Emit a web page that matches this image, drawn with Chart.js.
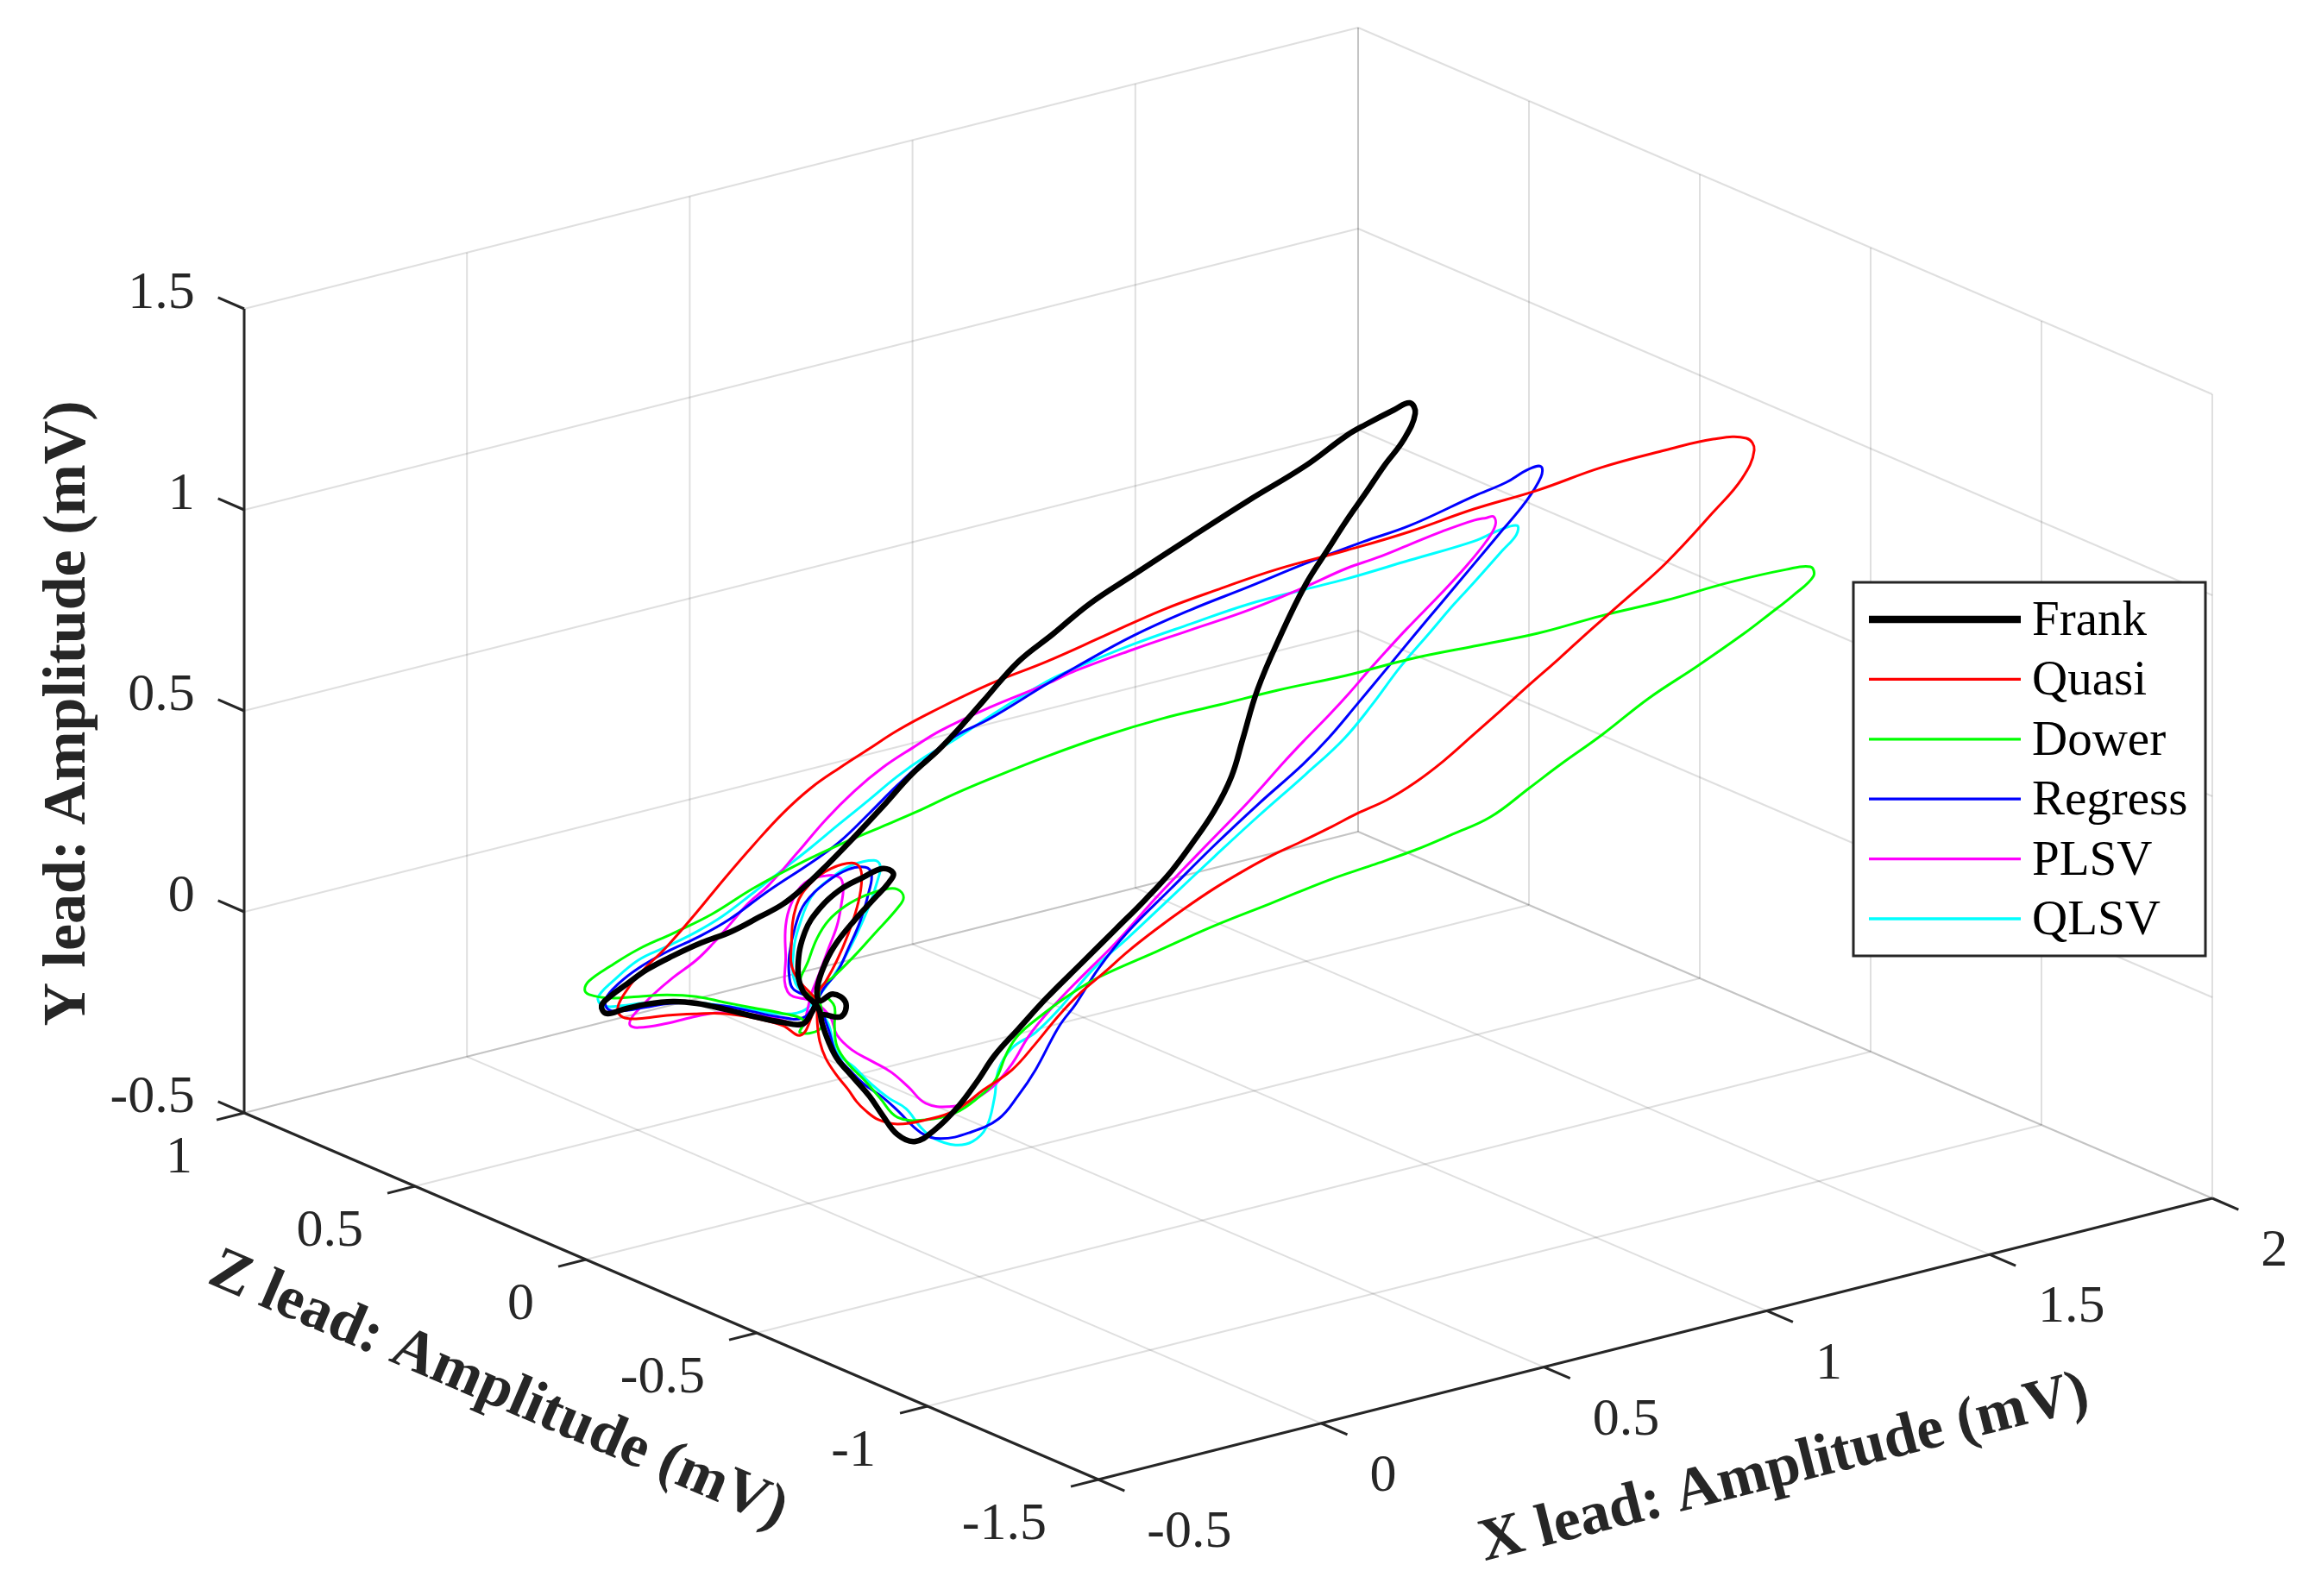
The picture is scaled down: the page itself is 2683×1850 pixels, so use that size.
<!DOCTYPE html>
<html><head><meta charset="utf-8">
<script src="https://cdn.jsdelivr.net/npm/chart.js@4.4.1/dist/chart.umd.min.js"></script>
<style>html,body{margin:0;padding:0;background:#fff;overflow:hidden}canvas{display:block}</style>
</head><body>
<canvas id="c" width="2683" height="1850"></canvas>
<script>
// ---------------- DATA (mV) ----------------
const seriesNames = ['Frank','Quasi','Dower','Regress','PLSV','QLSV'];

const frankX = [0.014,0.004,-0.010,-0.042,-0.090,-0.136,-0.182,-0.220,-0.262,-0.300,
 -0.328,-0.336,-0.322,-0.294,-0.262,-0.220,-0.174,-0.126,-0.080,-0.042,
 -0.010,0.028,0.074,0.120,0.168,0.211,0.249,0.284,0.340,0.396,
 0.456,0.526,0.620,0.714,0.806,0.872,0.903,0.949,0.975,0.984,
 0.966,0.933,0.903,0.872,0.844,0.806,0.765,0.728,0.704,0.686,
 0.658,0.620,0.588,0.546,0.498,0.442,0.386,0.340,0.302,0.274,
 0.242,0.204,0.172,0.144,0.120,0.098,0.070,0.046,0.032,0.022,
 0.015,-0.010,-0.017,-0.006,0.018,0.050,0.088,0.120,0.137,0.130,
 0.106,0.074,0.046,0.028,0.014,0.018,0.039,0.060,0.053,0.025];
const frankY = [0.003,-0.029,-0.053,-0.046,-0.026,-0.004,0.015,0.023,0.021,0.012,
 0.004,0.024,0.046,0.075,0.107,0.137,0.165,0.188,0.220,0.248,
 0.284,0.336,0.404,0.475,0.552,0.608,0.666,0.723,0.814,0.877,
 0.947,1.011,1.096,1.179,1.256,1.324,1.349,1.381,1.396,1.369,
 1.307,1.243,1.178,1.112,1.048,0.960,0.837,0.706,0.585,0.495,
 0.412,0.330,0.268,0.202,0.133,0.053,-0.027,-0.100,-0.161,-0.222,
 -0.284,-0.338,-0.363,-0.343,-0.293,-0.242,-0.190,-0.144,-0.100,-0.056,
 -0.015,0.031,0.091,0.176,0.232,0.274,0.302,0.321,0.308,0.285,
 0.247,0.196,0.145,0.098,0.035,0.002,0.017,-0.006,-0.040,-0.033];
const frankZ = [-0.007,-0.002,0.005,0.021,0.045,0.068,0.091,0.110,0.131,0.150,
 0.164,0.168,0.161,0.147,0.131,0.110,0.087,0.063,0.040,0.021,
 0.005,-0.014,-0.037,-0.060,-0.084,-0.106,-0.125,-0.142,-0.170,-0.198,
 -0.228,-0.263,-0.310,-0.357,-0.403,-0.436,-0.452,-0.475,-0.488,-0.492,
 -0.483,-0.467,-0.452,-0.436,-0.422,-0.403,-0.383,-0.364,-0.352,-0.343,
 -0.329,-0.310,-0.294,-0.273,-0.249,-0.221,-0.193,-0.170,-0.151,-0.137,
 -0.121,-0.102,-0.086,-0.072,-0.060,-0.049,-0.035,-0.023,-0.016,-0.011,
 -0.008,0.005,0.009,0.003,-0.009,-0.025,-0.044,-0.060,-0.069,-0.065,
 -0.053,-0.037,-0.023,-0.014,-0.007,-0.009,-0.020,-0.030,-0.027,-0.013];

const quasiX = [0.014,-0.024,-0.028,-0.020,0.004,0.036,0.070,0.084,0.085,0.078,
 0.064,0.046,0.028,0.014,0.004,-0.013,-0.042,-0.090,-0.136,-0.182,
 -0.230,-0.276,-0.301,-0.310,-0.300,-0.276,-0.230,-0.182,-0.136,-0.090,
 -0.042,0.004,0.050,0.098,0.144,0.200,0.294,0.386,0.480,0.574,
 0.666,0.760,0.872,0.975,1.079,1.183,1.286,1.390,1.467,1.521,
 1.534,1.514,1.467,1.390,1.320,1.264,1.218,1.170,1.124,1.078,
 1.030,0.984,0.938,0.890,0.844,0.798,0.750,0.704,0.658,0.610,
 0.564,0.518,0.480,0.442,0.406,0.368,0.330,0.284,0.238,0.190,
 0.144,0.113,0.092,0.078,0.064,0.046,0.028,0.018,0.014,0.014];
const quasiY = [0.003,0.077,0.146,0.242,0.297,0.329,0.340,0.324,0.281,0.226,
 0.163,0.100,0.050,0.020,-0.039,-0.081,-0.054,-0.030,-0.015,-0.011,
 -0.010,-0.014,-0.008,0.013,0.048,0.095,0.161,0.241,0.322,0.399,
 0.474,0.533,0.578,0.621,0.662,0.703,0.763,0.810,0.865,0.920,
 0.963,1.003,1.039,1.076,1.122,1.159,1.205,1.238,1.258,1.255,
 1.224,1.155,1.076,0.956,0.867,0.797,0.737,0.677,0.618,0.560,
 0.500,0.451,0.412,0.383,0.351,0.321,0.291,0.257,0.219,0.174,
 0.127,0.076,0.028,-0.018,-0.072,-0.139,-0.200,-0.245,-0.292,-0.311,
 -0.317,-0.303,-0.278,-0.255,-0.223,-0.187,-0.143,-0.099,-0.051,-0.008];
const quasiZ = [-0.007,0.012,0.014,0.010,-0.002,-0.018,-0.035,-0.042,-0.043,-0.039,
 -0.032,-0.023,-0.014,-0.007,-0.002,0.007,0.021,0.045,0.068,0.091,
 0.115,0.138,0.151,0.155,0.150,0.138,0.115,0.091,0.068,0.045,
 0.021,-0.002,-0.025,-0.049,-0.072,-0.100,-0.147,-0.193,-0.240,-0.287,
 -0.333,-0.380,-0.436,-0.488,-0.540,-0.592,-0.643,-0.695,-0.734,-0.761,
 -0.767,-0.757,-0.734,-0.695,-0.660,-0.632,-0.609,-0.585,-0.562,-0.539,
 -0.515,-0.492,-0.469,-0.445,-0.422,-0.399,-0.375,-0.352,-0.329,-0.305,
 -0.282,-0.259,-0.240,-0.221,-0.203,-0.184,-0.165,-0.142,-0.119,-0.095,
 -0.072,-0.057,-0.046,-0.039,-0.032,-0.023,-0.014,-0.009,-0.007,-0.007];

const dowerX = [0.018,-0.013,0.000,0.014,0.032,0.060,0.092,0.123,0.144,0.154,
 0.144,0.106,0.074,0.042,0.018,0.022,0.018,-0.014,-0.007,-0.048,
 -0.090,-0.136,-0.182,-0.230,-0.276,-0.322,-0.356,-0.363,-0.356,-0.322,
 -0.276,-0.220,-0.157,-0.090,-0.020,0.050,0.120,0.172,0.238,0.294,
 0.386,0.480,0.574,0.666,0.760,0.872,0.975,1.079,1.183,1.286,
 1.390,1.493,1.586,1.625,1.630,1.597,1.558,1.518,1.442,1.363,
 1.288,1.218,1.170,1.106,1.044,0.984,0.914,0.844,0.750,0.658,
 0.564,0.470,0.424,0.378,0.340,0.322,0.302,0.274,0.238,0.190,
 0.144,0.116,0.092,0.064,0.046,0.042,0.042,0.032];
const dowerY = [0.002,0.042,0.105,0.159,0.200,0.234,0.257,0.269,0.267,0.246,
 0.220,0.159,0.108,0.062,0.030,-0.037,-0.069,-0.074,-0.045,-0.021,
 -0.005,0.013,0.032,0.041,0.041,0.042,0.054,0.067,0.088,0.121,
 0.159,0.193,0.234,0.292,0.343,0.387,0.426,0.455,0.496,0.527,
 0.574,0.616,0.650,0.675,0.702,0.728,0.759,0.781,0.803,0.836,
 0.864,0.899,0.922,0.925,0.901,0.857,0.813,0.770,0.696,0.624,
 0.541,0.471,0.420,0.353,0.316,0.283,0.252,0.222,0.173,0.126,
 0.071,0.016,-0.022,-0.069,-0.115,-0.156,-0.225,-0.265,-0.298,-0.311,
 -0.300,-0.250,-0.205,-0.159,-0.114,-0.065,-0.015,0.007];
const dowerZ = [-0.009,0.007,0.000,-0.007,-0.016,-0.030,-0.046,-0.062,-0.072,-0.077,
 -0.072,-0.053,-0.037,-0.021,-0.009,-0.011,-0.009,0.007,0.004,0.024,
 0.045,0.068,0.091,0.115,0.138,0.161,0.178,0.182,0.178,0.161,
 0.138,0.110,0.079,0.045,0.010,-0.025,-0.060,-0.086,-0.119,-0.147,
 -0.193,-0.240,-0.287,-0.333,-0.380,-0.436,-0.488,-0.540,-0.592,-0.643,
 -0.695,-0.747,-0.793,-0.813,-0.815,-0.799,-0.779,-0.759,-0.721,-0.682,
 -0.644,-0.609,-0.585,-0.553,-0.522,-0.492,-0.457,-0.422,-0.375,-0.329,
 -0.282,-0.235,-0.212,-0.189,-0.170,-0.161,-0.151,-0.137,-0.119,-0.095,
 -0.072,-0.058,-0.046,-0.032,-0.023,-0.021,-0.021,-0.016];

const regressX = [0.011,-0.024,-0.031,-0.031,-0.021,-0.006,0.028,0.064,0.092,0.102,
 0.098,0.084,0.064,0.046,0.025,0.011,-0.010,-0.052,-0.094,-0.140,
 -0.188,-0.224,-0.266,-0.304,-0.325,-0.329,-0.308,-0.276,-0.230,-0.182,
 -0.129,-0.066,0.004,0.050,0.098,0.144,0.190,0.238,0.294,0.386,
 0.434,0.526,0.620,0.714,0.806,0.900,0.975,1.079,1.131,1.167,
 1.188,1.188,1.162,1.121,1.079,1.027,0.984,0.938,0.890,0.844,
 0.802,0.728,0.658,0.588,0.518,0.470,0.434,0.406,0.368,0.340,
 0.308,0.260,0.214,0.182,0.144,0.120,0.092,0.070,0.046,0.032,
 0.022,0.014];
const regressY = [0.009,0.034,0.065,0.121,0.193,0.247,0.295,0.324,0.327,0.309,
 0.267,0.195,0.126,0.070,0.034,-0.002,-0.038,-0.030,-0.013,0.005,
 0.016,0.019,0.013,0.008,0.014,0.040,0.077,0.112,0.148,0.178,
 0.218,0.283,0.347,0.394,0.460,0.526,0.586,0.639,0.677,0.754,
 0.792,0.860,0.916,0.964,1.013,1.058,1.091,1.154,1.183,1.212,
 1.217,1.191,1.129,1.058,0.985,0.895,0.820,0.739,0.655,0.576,
 0.514,0.420,0.326,0.226,0.125,0.038,-0.045,-0.100,-0.204,-0.265,
 -0.320,-0.350,-0.360,-0.342,-0.283,-0.248,-0.215,-0.181,-0.136,-0.070,
 -0.026,0.003];
const regressZ = [-0.006,0.012,0.016,0.016,0.011,0.003,-0.014,-0.032,-0.046,-0.051,
 -0.049,-0.042,-0.032,-0.023,-0.013,-0.006,0.005,0.026,0.047,0.070,
 0.094,0.112,0.133,0.152,0.163,0.165,0.154,0.138,0.115,0.091,
 0.065,0.033,-0.002,-0.025,-0.049,-0.072,-0.095,-0.119,-0.147,-0.193,
 -0.217,-0.263,-0.310,-0.357,-0.403,-0.450,-0.488,-0.540,-0.566,-0.584,
 -0.594,-0.594,-0.581,-0.561,-0.540,-0.514,-0.492,-0.469,-0.445,-0.422,
 -0.401,-0.364,-0.329,-0.294,-0.259,-0.235,-0.217,-0.203,-0.184,-0.170,
 -0.154,-0.130,-0.107,-0.091,-0.072,-0.060,-0.046,-0.035,-0.023,-0.016,
 -0.011,-0.007];

const plsvX = [0.004,-0.034,-0.037,-0.037,-0.028,-0.006,0.028,0.050,0.056,0.053,
 0.046,0.032,0.018,0.004,-0.003,-0.010,-0.045,-0.094,-0.146,-0.182,
 -0.230,-0.276,-0.290,-0.287,-0.276,-0.252,-0.220,-0.182,-0.154,-0.126,
 -0.098,-0.066,-0.020,0.028,0.074,0.120,0.168,0.214,0.294,0.386,
 0.434,0.526,0.620,0.714,0.806,0.872,0.924,0.975,1.027,1.079,
 1.100,1.111,1.114,1.100,1.068,1.027,0.970,0.938,0.910,0.876,
 0.844,0.806,0.774,0.714,0.634,0.564,0.498,0.442,0.396,0.358,
 0.330,0.298,0.260,0.228,0.190,0.162,0.134,0.102,0.070,0.046,
 0.036,0.018];
const plsvY = [0.004,0.029,0.121,0.194,0.249,0.298,0.312,0.306,0.282,0.241,
 0.186,0.130,0.073,0.019,-0.028,-0.059,-0.039,-0.021,-0.012,-0.017,
 -0.030,-0.036,-0.028,-0.011,0.009,0.044,0.083,0.123,0.163,0.209,
 0.256,0.296,0.371,0.452,0.518,0.572,0.616,0.655,0.705,0.754,
 0.783,0.826,0.866,0.906,0.955,0.994,1.017,1.044,1.071,1.094,
 1.098,1.100,1.078,1.041,0.983,0.919,0.834,0.784,0.739,0.682,
 0.632,0.576,0.527,0.430,0.311,0.206,0.099,0.019,-0.050,-0.117,
 -0.185,-0.240,-0.273,-0.282,-0.270,-0.227,-0.187,-0.156,-0.125,-0.086,
 -0.042,-0.009];
const plsvZ = [-0.002,0.017,0.019,0.019,0.014,0.003,-0.014,-0.025,-0.028,-0.027,
 -0.023,-0.016,-0.009,-0.002,0.002,0.005,0.023,0.047,0.073,0.091,
 0.115,0.138,0.145,0.144,0.138,0.126,0.110,0.091,0.077,0.063,
 0.049,0.033,0.010,-0.014,-0.037,-0.060,-0.084,-0.107,-0.147,-0.193,
 -0.217,-0.263,-0.310,-0.357,-0.403,-0.436,-0.462,-0.488,-0.514,-0.540,
 -0.550,-0.556,-0.557,-0.550,-0.534,-0.514,-0.485,-0.469,-0.455,-0.438,
 -0.422,-0.403,-0.387,-0.357,-0.317,-0.282,-0.249,-0.221,-0.198,-0.179,
 -0.165,-0.149,-0.130,-0.114,-0.095,-0.081,-0.067,-0.051,-0.035,-0.023,
 -0.018,-0.009];

const qlsvX = [0.011,-0.021,-0.024,-0.014,0.004,0.032,0.070,0.106,0.116,0.112,
 0.098,0.078,0.056,0.032,0.015,-0.010,-0.052,-0.094,-0.136,-0.185,
 -0.227,-0.269,-0.304,-0.332,-0.342,-0.336,-0.322,-0.276,-0.230,-0.182,
 -0.139,-0.090,-0.042,0.004,0.050,0.098,0.144,0.190,0.238,0.294,
 0.386,0.434,0.526,0.620,0.714,0.806,0.872,0.975,1.079,1.121,
 1.149,1.148,1.125,1.079,1.047,1.008,0.960,0.914,0.868,0.806,
 0.728,0.658,0.588,0.518,0.462,0.406,0.368,0.330,0.308,0.301,
 0.288,0.266,0.238,0.204,0.182,0.158,0.130,0.102,0.074,0.046,
 0.032,0.015];
const qlsvY = [0.003,0.049,0.135,0.198,0.261,0.301,0.334,0.343,0.329,0.293,
 0.230,0.162,0.099,0.044,0.013,-0.021,-0.023,-0.008,0.004,0.018,
 0.024,0.024,0.021,0.023,0.041,0.058,0.078,0.132,0.161,0.193,
 0.228,0.281,0.334,0.385,0.439,0.494,0.548,0.593,0.631,0.683,
 0.760,0.790,0.839,0.881,0.921,0.949,0.968,1.005,1.042,1.066,
 1.074,1.051,1.014,0.939,0.889,0.822,0.741,0.651,0.570,0.488,
 0.390,0.298,0.204,0.110,0.038,-0.057,-0.111,-0.146,-0.198,-0.268,
 -0.340,-0.372,-0.378,-0.359,-0.329,-0.280,-0.251,-0.214,-0.169,-0.129,
 -0.057,-0.013];
const qlsvZ = [-0.006,0.011,0.012,0.007,-0.002,-0.016,-0.035,-0.053,-0.058,-0.056,
 -0.049,-0.039,-0.028,-0.016,-0.008,0.005,0.026,0.047,0.068,0.093,
 0.114,0.135,0.152,0.166,0.171,0.168,0.161,0.138,0.115,0.091,
 0.070,0.045,0.021,-0.002,-0.025,-0.049,-0.072,-0.095,-0.119,-0.147,
 -0.193,-0.217,-0.263,-0.310,-0.357,-0.403,-0.436,-0.488,-0.540,-0.561,
 -0.575,-0.574,-0.563,-0.540,-0.524,-0.504,-0.480,-0.457,-0.434,-0.403,
 -0.364,-0.329,-0.294,-0.259,-0.231,-0.203,-0.184,-0.165,-0.154,-0.151,
 -0.144,-0.133,-0.119,-0.102,-0.091,-0.079,-0.065,-0.051,-0.037,-0.023,
 -0.016,-0.008];

// axis ticks / labels
const xTicks = [-0.5, 0, 0.5, 1, 1.5, 2];
const yTicks = [-0.5, 0, 0.5, 1, 1.5];
const zTicks = [1, 0.5, 0, -0.5, -1, -1.5];
const xTickLabels = ['-0.5','0','0.5','1','1.5','2'];
const yTickLabels = ['-0.5','0','0.5','1','1.5'];
const zTickLabels = ['1','0.5','0','-0.5','-1','-1.5'];
const xTitle = 'X lead: Amplitude (mV)';
const yTitle = 'Y lead: Amplitude (mV)';
const zTitle = 'Z lead: Amplitude (mV)';

// ---------------- VIEW / STYLE ----------------
const W = 2683, H = 1850;
const LIM = {x:[-0.5,2], y:[-0.5,1.5], z:[-1.5,1]};
// orthographic projection onto the page plane (plane units == canvas px)
const VIEW = {ox:937.2, oy:1161.8, ex:[516.4,-130.4], ey:[0,-466], ez:[-396,-170]};
function project(X, Y, Z) {
  return {x: VIEW.ox + VIEW.ex[0]*X + VIEW.ey[0]*Y + VIEW.ez[0]*Z,
          y: VIEW.oy + VIEW.ex[1]*X + VIEW.ey[1]*Y + VIEW.ez[1]*Z};
}
const colors = ['#000000','#ff0000','#00ff00','#0000ff','#ff00ff','#00ffff'];
const widths = [6.5, 3, 3, 3, 3, 3];
const seriesData = [
  [frankX, frankY, frankZ], [quasiX, quasiY, quasiZ], [dowerX, dowerY, dowerZ],
  [regressX, regressY, regressZ], [plsvX, plsvY, plsvZ], [qlsvX, qlsvY, qlsvZ]
];
const TXT = '#262626';
const SERIF = '"Liberation Serif","Times New Roman",serif';

const datasets = seriesNames.map((name, k) => {
  const [xs, ys, zs] = seriesData[k];
  return {
    label: name,
    data: xs.map((x, i) => project(x, ys[i], zs[i])),
    showLine: true, borderColor: colors[k], backgroundColor: colors[k],
    borderWidth: widths[k], pointRadius: 0, tension: 0.4,
    borderJoinStyle: 'round', borderCapStyle: 'round', fill: false
  };
});

const box3d = {
  id: 'box3d',
  beforeDatasetsDraw(chart) {
    const ctx = chart.ctx, sx = chart.scales.x, sy = chart.scales.y;
    const P = (X, Y, Z) => { const p = project(X, Y, Z); return [sx.getPixelForValue(p.x), sy.getPixelForValue(p.y)]; };
    const [x0, x1] = LIM.x, [y0, y1] = LIM.y, [z0, z1] = LIM.z;
    const seg = (a, b) => { ctx.beginPath(); ctx.moveTo(a[0], a[1]); ctx.lineTo(b[0], b[1]); ctx.stroke(); };
    ctx.save();
    ctx.lineCap = 'butt';
    ctx.strokeStyle = 'rgba(38,38,38,0.15)';
    ctx.lineWidth = 2;
    // floor (Y = min)
    xTicks.forEach(x => seg(P(x, y0, z1), P(x, y0, z0)));
    zTicks.forEach(z => seg(P(x0, y0, z), P(x1, y0, z)));
    // back wall (Z = max)
    xTicks.forEach(x => seg(P(x, y0, z1), P(x, y1, z1)));
    yTicks.forEach(y => seg(P(x0, y, z1), P(x1, y, z1)));
    // side wall (X = max)
    zTicks.forEach(z => seg(P(x1, y0, z), P(x1, y1, z)));
    yTicks.forEach(y => seg(P(x1, y, z1), P(x1, y, z0)));

    // axis lines
    ctx.strokeStyle = TXT; ctx.lineWidth = 3;
    seg(P(x0, y0, z1), P(x0, y1, z1));
    seg(P(x0, y0, z1), P(x0, y0, z0));
    seg(P(x0, y0, z0), P(x1, y0, z0));

    const unit = (a, b) => { const dx = b[0]-a[0], dy = b[1]-a[1], l = Math.hypot(dx, dy); return [dx/l, dy/l]; };
    const TL = 33;
    ctx.fillStyle = TXT;
    ctx.font = '62px ' + SERIF;
    // Y ticks (pointing +Z)
    yTicks.forEach((y, i) => {
      const a = P(x0, y, z1), u = unit(P(x0, y, z0), P(x0, y, z1));
      const b = [a[0] + u[0]*TL, a[1] + u[1]*TL];
      seg(a, b);
      ctx.textAlign = 'right'; ctx.textBaseline = 'middle';
      ctx.fillText(yTickLabels[i], b[0] - 27, b[1] - 4);
    });
    // Z ticks (pointing -X)
    zTicks.forEach((z, i) => {
      const a = P(x0, y0, z), u = unit(P(x1, y0, z), P(x0, y0, z));
      const b = [a[0] + u[0]*TL, a[1] + u[1]*TL];
      seg(a, b);
      ctx.textAlign = 'right'; ctx.textBaseline = 'middle';
      ctx.fillText(zTickLabels[i], b[0] - 28, b[1] + 45);
    });
    // X ticks (pointing -Z)
    xTicks.forEach((x, i) => {
      const a = P(x, y0, z0), u = unit(P(x, y0, z1), P(x, y0, z0));
      const b = [a[0] + u[0]*TL, a[1] + u[1]*TL];
      seg(a, b);
      ctx.textAlign = 'left'; ctx.textBaseline = 'middle';
      ctx.fillText(xTickLabels[i], b[0] + 26, b[1] + 49);
    });

    // axis titles
    ctx.font = 'bold 70px ' + SERIF;
    ctx.textAlign = 'center'; ctx.textBaseline = 'middle';
    const drawRot = (t, cx, cy, ang) => { ctx.save(); ctx.translate(cx, cy); ctx.rotate(ang); ctx.fillText(t, 0, 0); ctx.restore(); };
    drawRot(yTitle, 80, 827, -Math.PI/2);
    const uz = unit(P(x0, y0, z1), P(x0, y0, z0));
    drawRot(zTitle, 577, 1612, Math.atan2(uz[1], uz[0]));
    const ux = unit(P(x0, y0, z0), P(x1, y0, z0));
    drawRot(xTitle, 2068, 1703, Math.atan2(ux[1], ux[0]));
    ctx.restore();
  },
  afterDraw(chart) {
    const ctx = chart.ctx;
    const L = {x: 2148, y: 675, w: 408, h: 433, lx0: 2166, lx1: 2342, tx: 2355, row0: 718, dy: 69.4};
    ctx.save();
    ctx.fillStyle = '#ffffff';
    ctx.fillRect(L.x, L.y, L.w, L.h);
    ctx.strokeStyle = TXT; ctx.lineWidth = 3;
    ctx.strokeRect(L.x, L.y, L.w, L.h);
    ctx.font = '57px ' + SERIF;
    ctx.textAlign = 'left'; ctx.textBaseline = 'middle';
    seriesNames.forEach((n, k) => {
      const y = L.row0 + k * L.dy;
      ctx.strokeStyle = colors[k];
      ctx.lineWidth = k === 0 ? 8.5 : 3.3;
      ctx.lineCap = 'butt';
      ctx.beginPath(); ctx.moveTo(L.lx0, y); ctx.lineTo(L.lx1, y); ctx.stroke();
      ctx.fillStyle = '#000000';
      ctx.fillText(n, L.tx, y + 3);
    });
    ctx.restore();
  }
};

new Chart(document.getElementById('c'), {
  type: 'scatter',
  data: { datasets },
  options: {
    responsive: false, animation: false, devicePixelRatio: 1,
    layout: { padding: 0 },
    plugins: { legend: { display: false }, tooltip: { enabled: false } },
    scales: {
      x: { type: 'linear', min: 0, max: W, display: false },
      y: { type: 'linear', min: 0, max: H, reverse: true, display: false }
    }
  },
  plugins: [box3d]
});
</script>
</body></html>
